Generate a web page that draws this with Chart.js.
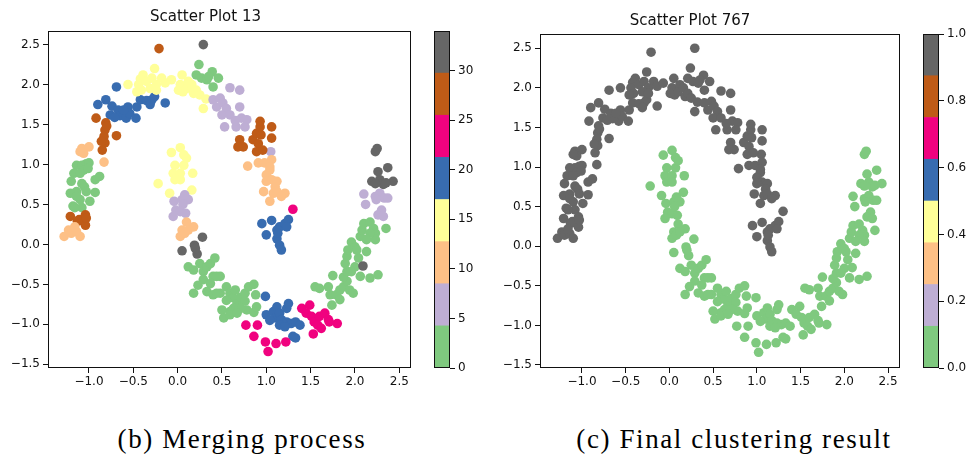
<!DOCTYPE html>
<html>
<head>
<meta charset="utf-8">
<script src="https://cdn.jsdelivr.net/npm/chart.js@4.4.1/dist/chart.umd.min.js"></script>
<style>
  body { margin: 0; background: #fff; width: 969px; height: 458px; overflow: hidden; position: relative; }
  canvas { position: absolute; }
  .caption { position: absolute; font-family: "Liberation Serif", serif; font-size: 27px; letter-spacing: 1.6px; color: #000; white-space: nowrap; transform: translateX(-50%); }
</style>
</head>
<body>
<canvas id="scatter13" width="459" height="395" style="left:0;top:0"></canvas>
<canvas id="bar13" width="55" height="395" style="left:425px;top:0"></canvas>
<canvas id="scatter767" width="480" height="395" style="left:480px;top:0"></canvas>
<canvas id="bar767" width="55" height="395" style="left:914px;top:0"></canvas>
<div class="caption" style="left:242px;top:424px">(b) Merging process</div>
<div class="caption" style="left:734px;top:424px">(c) Final clustering result</div>
<script>
// Accent colormap, 8 bins
var accentColors = ['#7fc97f', '#beaed4', '#fdc086', '#ffff99', '#386cb0', '#f0027f', '#bf5b17', '#666666'];

// cluster label at the merging step, and label in the final result
var clusterIds   = [30, 29, 18, 27, 10, 15, 3, 7, 8, 28, 11, 22, 19, 0, 26, 9, 14, 6, 12, 31, 1, 20, 23, 24, 2, 33, 5, 32];
var clusterFinal = [1, 1, 1, 1, 1, 1, 1, 1, 1, 1, 1, 1, 1, 1, 1, 1, 0, 0, 0, 0, 0, 0, 0, 0, 0, 0, 0, 0];

var clusterX = [
  [0.29],
  [-0.21],
  [-0.69,-0.90,-0.81,-0.74,-0.76,-0.67,-0.65,-0.58,-0.56,-0.54,-0.47,-0.46,-0.42,-0.35,-0.29,-0.26,-0.31,-0.14,-0.61,-0.71],
  [-0.92,-0.81,-0.82,-0.83,-0.82,-0.85,-0.69,-0.80,-0.86],
  [-1.08,-1.00,-1.06,-1.10,-0.83],
  [-0.56,-0.42,-0.39,-0.44,-0.35,-0.29,-0.26,-0.24,-0.31,-0.41,-0.18,-0.14,-0.07,0.05,0.03,0.01,0.06,0.12,0.10,0.16,0.18,0.21,0.25,0.29,0.32,-0.46,-0.24],
  [0.24,0.21,0.27,0.33,0.39,0.46,0.40,0.35],
  [0.59,0.70,0.40,0.48,0.44,0.51,0.55,0.50,0.59,0.53,0.66,0.70,0.72,0.78,0.76,0.65],
  [1.05],
  [0.70,0.74,0.68,0.85,0.89,0.93,0.94,0.91,0.89,0.96,1.06,1.06,0.93],
  [0.79,0.91,0.98,1.06,1.04,1.00,1.06,1.12,1.10,1.08,1.04,0.97,1.12,1.21,1.17,1.04,1.00],
  [1.30],
  [0.95,1.06,1.00,1.12,1.15,1.21,1.25,1.23,1.12,1.15,1.17,1.13],
  [-1.14,-1.08,-1.03,-1.00,-1.17,-1.06,-1.01,-1.20,-1.08,-1.05,-0.93,-0.88,-1.21,-1.14,-1.03,-1.10,-0.99,-0.93,-1.18,-1.08,-1.14,-1.10,-1.16],
  [-1.21,-1.11,-1.06,-1.04,-1.04,-1.13,-1.03],
  [-1.28,-1.23,-1.20,-1.14,-1.10,-1.16],
  [-0.07,0.03,0.07,-0.03,0.07,-0.05,0.03,0.17,-0.03,0.03,-0.22,-0.09,0.16,0.10],
  [-0.04,0.05,0.12,0.06,-0.02,0.03,-0.05,0.09,0.08],
  [0.10,0.05,0.03,0.18,0.08,0.12],
  [0.05,0.19,0.22,0.28,0.20],
  [0.12,0.18,0.25,0.29,0.33,0.37,0.42,0.29,0.40,0.48,0.18,0.33,0.40,0.48,0.55,0.59,0.63,0.65,0.67,0.71,0.76,0.80,0.86,0.88,0.76,0.78,0.71,0.63,0.59,0.50,0.52,0.59,0.67,0.86,0.89,0.44,0.37,0.23,0.55,0.44],
  [0.99,1.00,1.08,1.12,1.10,1.15,1.17,1.23,1.25,1.23,1.28,1.33,1.38,1.04,1.15,1.21,1.33,1.30],
  [0.77,0.90,0.86,0.99,1.02,1.11,1.22],
  [1.40,1.49,1.45,1.51,1.54,1.60,1.66,1.70,1.58,1.53,1.62,1.80,1.71],
  [1.55,1.60,1.70,1.75,1.72,1.79,1.83,1.87,1.91,1.94,1.98,1.87,1.91,1.89,1.91,1.92,1.96,2.00,2.06,2.08,2.10,2.17,2.21,2.23,2.23,2.13,2.04,2.06,2.17,2.26,2.35,2.00,1.96,2.02,2.17,2.13,1.83,1.74],
  [2.09],
  [2.10,2.12,2.23,2.28,2.33,2.37,2.30,2.26,2.32,2.24],
  [2.23,2.25,2.19,2.26,2.28,2.32,2.37,2.43,2.35,2.23]
];

var clusterY = [
  [2.50],
  [2.45],
  [1.97,1.75,1.81,1.73,1.62,1.68,1.61,1.58,1.72,1.64,1.58,1.72,1.81,1.80,1.81,1.85,1.75,1.77,1.68,1.59],
  [1.58,1.52,1.43,1.35,1.27,1.18,1.36,1.48,1.29],
  [1.20,1.22,1.14,1.16,1.03],
  [2.00,2.07,2.12,2.00,2.04,2.08,2.20,2.00,1.95,1.93,2.08,2.02,2.06,2.12,2.00,1.93,1.91,2.04,1.95,2.00,1.89,1.93,1.87,1.70,1.82,1.91,1.93],
  [2.25,2.12,2.08,2.06,2.16,2.08,1.97,2.10],
  [1.96,1.93,1.81,1.83,1.72,1.77,1.70,1.62,1.62,1.47,1.47,1.72,1.58,1.56,1.47,1.55],
  [1.16],
  [1.31,1.22,1.22,1.31,1.39,1.47,1.37,1.26,1.16,1.18,1.47,1.33,1.54],
  [0.98,1.02,1.02,1.06,0.93,0.87,0.81,0.79,0.72,0.64,0.54,0.66,0.66,0.64,0.60,0.97,0.79],
  [0.44],
  [0.26,0.30,0.12,0.18,0.22,0.26,0.31,0.22,0.07,-0.01,-0.07,0.14],
  [0.99,0.99,1.01,1.02,0.89,0.93,0.95,0.79,0.76,0.72,0.81,0.85,0.64,0.66,0.66,0.56,0.54,0.65,0.48,0.46,0.60,0.89,0.46],
  [0.35,0.31,0.29,0.37,0.24,0.29,0.33],
  [0.10,0.18,0.14,0.16,0.10,0.22],
  [1.15,1.21,1.12,0.99,0.99,0.89,0.89,0.89,0.81,0.81,0.76,0.64,0.68,1.08],
  [0.54,0.56,0.56,0.50,0.43,0.41,0.35,0.39,0.62],
  [0.28,0.18,0.10,0.22,0.14,0.18],
  [-0.08,-0.01,-0.12,0.09,-0.05],
  [-0.28,-0.32,-0.24,-0.34,-0.28,-0.24,-0.17,-0.44,-0.40,-0.40,-0.61,-0.59,-0.63,-0.61,-0.53,-0.61,-0.67,-0.57,-0.74,-0.66,-0.61,-0.53,-0.50,-0.63,-0.71,-0.82,-0.80,-0.80,-0.84,-0.82,-0.92,-0.88,-0.86,-0.85,-0.78,-0.40,-0.49,-0.51,-0.70,-0.61],
  [-0.65,-0.88,-0.84,-0.78,-0.92,-0.86,-0.94,-0.80,-0.74,-0.97,-0.99,-0.97,-1.01,-0.95,-1.01,-1.03,-1.17,-1.15],
  [-1.01,-1.01,-1.15,-1.22,-1.34,-1.24,-1.22],
  [-0.80,-0.76,-0.86,-0.90,-0.97,-0.90,-0.86,-0.94,-1.01,-1.12,-1.05,-0.99,-0.97],
  [-0.53,-0.55,-0.53,-0.39,-0.63,-0.63,-0.57,-0.53,-0.46,-0.57,-0.61,-0.41,-0.34,-0.24,-0.15,-0.07,0.03,-0.03,0.10,0.18,0.26,0.28,0.20,0.14,0.06,-0.09,-0.17,-0.40,-0.42,-0.38,0.20,-0.28,-0.34,-0.07,0.14,0.06,-0.69,-0.76],
  [-0.27],
  [0.63,0.50,0.60,0.64,0.58,0.58,0.43,0.37,0.35,0.56],
  [1.16,1.20,0.79,0.91,0.81,0.75,0.96,0.79,0.77,0.76]
];

var colorbar13Ticks = [0, 5, 10, 15, 20, 25, 30];
var colorbar767Ticks = [0, 0.2, 0.4, 0.6, 0.8, 1.0];

function cmap(v, vmax) {
    var i = Math.floor(v / vmax * accentColors.length);
    return accentColors[Math.max(0, Math.min(accentColors.length - 1, i))];
}

function minusFmt(v, digits) {
    return v.toFixed(digits).replace('-', '\u2212');
}

var framePlugin = {
    id: 'frame',
    afterDatasetsDraw: function (chart) {
        var a = chart.chartArea, ctx = chart.ctx;
        ctx.save();
        ctx.strokeStyle = '#111';
        ctx.lineWidth = 1;
        ctx.strokeRect(Math.round(a.left) + 0.5, Math.round(a.top) + 0.5,
            Math.round(a.right - a.left) - 1, Math.round(a.bottom - a.top) - 1);
        ctx.restore();
    }
};

var tickFont = { family: 'DejaVu Sans', size: 12 };

function buildPoints(final) {
    var pts = [], colors = [];
    for (var c = 0; c < clusterIds.length; c++) {
        for (var k = 0; k < clusterX[c].length; k++) {
            pts.push({ x: clusterX[c][k], y: clusterY[c][k] });
            colors.push(final ? cmap(clusterFinal[c], 1) : cmap(clusterIds[c], 34));
        }
    }
    return { pts: pts, colors: colors };
}

function scatterChart(id, title, final, box) {
    var d = buildPoints(final);
    new Chart(document.getElementById(id).getContext('2d'), {
        type: 'scatter',
        data: { datasets: [{ data: d.pts, backgroundColor: d.colors, pointRadius: 4.8, pointHoverRadius: 4.8, borderWidth: 0 }] },
        options: {
            responsive: false, animation: false, devicePixelRatio: 1,
            layout: { padding: { left: 0, right: box.padRight, top: 0, bottom: 0 } },
            plugins: {
                legend: { display: false }, tooltip: { enabled: false },
                title: { display: true, text: title, color: '#111', font: { family: 'DejaVu Sans', size: 15, weight: 'normal' },
                         padding: { top: box.titleTop, bottom: box.titleBottom } }
            },
            scales: {
                x: {
                    type: 'linear', min: box.xMin, max: box.xMax,
                    afterFit: function (s) { s.height = 27; },
                    grid: { drawOnChartArea: false, tickLength: 5, color: '#111' }, border: { display: false },
                    ticks: { stepSize: 0.5, includeBounds: false, color: '#111', font: tickFont, padding: 2, maxRotation: 0,
                             callback: function (v) { return minusFmt(v, 1); } }
                },
                y: {
                    type: 'linear', min: box.yMin, max: box.yMax,
                    afterFit: function (s) { s.width = box.yWidth; },
                    grid: { drawOnChartArea: false, tickLength: 5, color: '#111' }, border: { display: false },
                    ticks: { stepSize: 0.5, includeBounds: false, color: '#111', font: tickFont, padding: 3,
                             callback: function (v) { return minusFmt(v, 1); } }
                }
            }
        },
        plugins: [framePlugin]
    });
}

function colorbarChart(id, vmax, ticks, digits, top) {
    var datasets = accentColors.map(function (col, i) {
        return { data: [[vmax * i / accentColors.length, vmax * (i + 1) / accentColors.length]], backgroundColor: col,
                 borderWidth: 0, barPercentage: 1, categoryPercentage: 1, grouped: false };
    });
    new Chart(document.getElementById(id).getContext('2d'), {
        type: 'bar',
        data: { labels: ['c'], datasets: datasets },
        options: {
            responsive: false, animation: false, devicePixelRatio: 1,
            layout: { padding: { left: 9, right: 0, top: top, bottom: 27 } },
            plugins: { legend: { display: false }, tooltip: { enabled: false } },
            scales: {
                x: { display: false },
                y: {
                    position: 'right', min: 0, max: vmax,
                    afterFit: function (s) { s.width = 30; },
                    afterBuildTicks: function (s) { s.ticks = ticks.map(function (v) { return { value: v }; }); },
                    grid: { drawOnChartArea: false, tickLength: 5, color: '#111' }, border: { display: false },
                    ticks: { color: '#111', font: tickFont, padding: 3,
                             callback: function (v) { return v.toFixed(digits); } }
                }
            }
        },
        plugins: [framePlugin]
    });
}

scatterChart('scatter13', 'Scatter Plot 13', false,
    { xMin: -1.462, xMax: 2.632, yMin: -1.546, yMax: 2.67, yWidth: 48, padRight: 48, titleTop: 8, titleBottom: 5 });
scatterChart('scatter767', 'Scatter Plot 767', true,
    { xMin: -1.48, xMax: 2.637, yMin: -1.538, yMax: 2.68, yWidth: 60, padRight: 60, titleTop: 12, titleBottom: 4 });
colorbarChart('bar13', 34, colorbar13Ticks, 0, 31);
colorbarChart('bar767', 1, colorbar767Ticks, 1, 34);
</script>
</body>
</html>
